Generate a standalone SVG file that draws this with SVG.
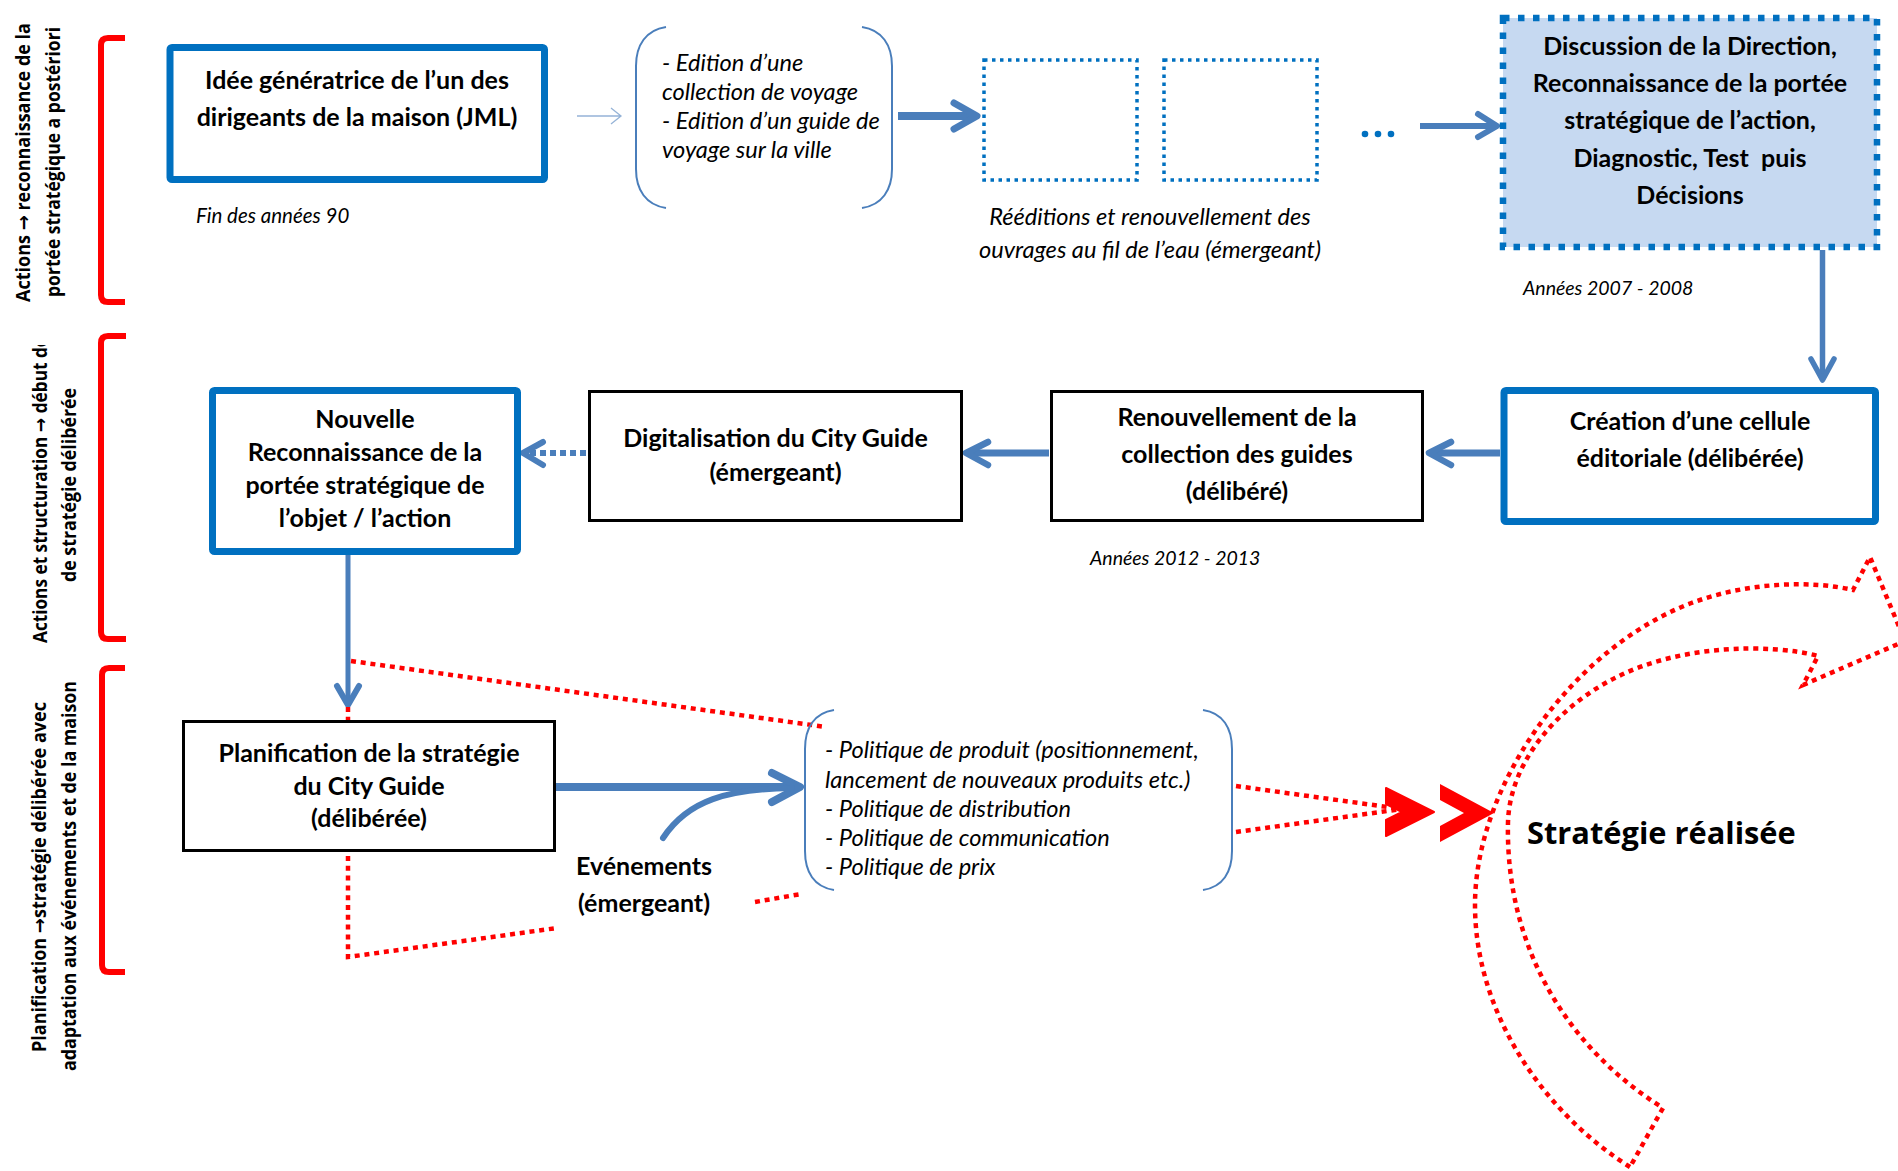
<svg xmlns="http://www.w3.org/2000/svg" width="1898" height="1171" viewBox="0 0 1898 1171">
<defs>
<style>
.bb{fill:#fff;stroke:#0070C0;stroke-width:7}
.bk{fill:#fff;stroke:#000;stroke-width:3}
.db{fill:none;stroke:#0070C0;stroke-width:3.5;stroke-dasharray:3.5 4.5}
.tb{font-family:Lato,"Liberation Sans",sans-serif;font-weight:700;font-size:25px;text-anchor:middle;fill:#000}
.ti{font-family:Lato,"Liberation Sans",sans-serif;font-style:italic;font-size:23.6px;fill:#000}
.tc{font-family:Lato,"Liberation Sans",sans-serif;font-style:italic;font-size:19.5px;fill:#000}
.lb{font-family:"Open Sans","DejaVu Sans",sans-serif;font-weight:700;font-size:19px;text-anchor:middle;fill:#000}
.sh{stroke:#4A7EBB;fill:none;stroke-linecap:butt}
.hd{stroke:#4A7EBB;fill:none;stroke-linecap:round;stroke-linejoin:round}
.rd{stroke:#FF0000;stroke-width:4.5;stroke-dasharray:5 4.8;fill:none}
.pr{stroke:#4A7EBB;stroke-width:2;fill:none}
.br{stroke:#FF0000;stroke-width:6;fill:none;stroke-linejoin:round}
</style>
<clipPath id="cl2"><rect x="0" y="345" width="130" height="320"/></clipPath>
</defs>
<rect width="1898" height="1171" fill="#fff"/>

<g id="labels">
<text class="lb" transform="translate(30,162.5) rotate(-90)" textLength="279" lengthAdjust="spacingAndGlyphs">Actions → reconnaissance de la</text>
<text class="lb" transform="translate(59.5,162) rotate(-90)" textLength="270" lengthAdjust="spacingAndGlyphs">portée stratégique a postériori</text>
<g clip-path="url(#cl2)"><text class="lb" style="text-anchor:start" transform="translate(47,643) rotate(-90)" textLength="306" lengthAdjust="spacingAndGlyphs">Actions et structuration → début de</text></g>
<text class="lb" transform="translate(76,485) rotate(-90)" textLength="194" lengthAdjust="spacingAndGlyphs">de stratégie délibérée</text>
<text class="lb" transform="translate(46,877) rotate(-90)" textLength="350" lengthAdjust="spacingAndGlyphs">Planification →stratégie délibérée avec</text>
<text class="lb" transform="translate(76,876) rotate(-90)" textLength="390" lengthAdjust="spacingAndGlyphs">adaptation aux événements et de la maison</text>
</g>

<g id="brackets">
<path class="br" d="M125,38 H108 Q101,38 101,45 V295 Q101,302 108,302 H125"/>
<path class="br" d="M126,336 H108 Q101,336 101,343 V632 Q101,639 108,639 H126"/>
<path class="br" d="M125,668 H109 Q102,668 102,675 V965 Q102,972 109,972 H125"/>
</g>

<g id="connectors">
<path d="M577,116 H620 M611,108 L621,116 L611,124" stroke="#95B3D7" stroke-width="1.3" fill="none"/>
<path class="sh" d="M898,116 H974" stroke-width="8"/>
<polyline class="hd" points="954,103 977,116 954,129" stroke-width="7"/>
<path class="sh" d="M1420,126 H1494" stroke-width="6"/>
<polyline class="hd" points="1478,114 1497,126 1478,137" stroke-width="6"/>
<path class="sh" d="M1822.5,250 V378" stroke-width="5.5"/>
<polyline class="hd" points="1811,359 1822.5,380 1834,359" stroke-width="5.5"/>
<path class="sh" d="M1500,453 H1431" stroke-width="7"/>
<polyline class="hd" points="1451,442 1429,453 1451,465" stroke-width="6.5"/>
<path class="sh" d="M1049,453 H969" stroke-width="7"/>
<polyline class="hd" points="988,442 966,453 988,465" stroke-width="6.5"/>
<path class="sh" d="M586,453 H527" stroke-width="6" stroke-dasharray="6 4"/>
<polyline class="hd" points="543,442 523,453 543,465" stroke-width="6"/>
<path class="sh" d="M348,555 V702" stroke-width="5"/>
<polyline class="hd" points="337,686 348,705 359,686" stroke-width="6"/>
<path class="sh" d="M556,787 H797" stroke-width="8"/>
<polyline class="hd" points="772,773 800,787 772,802" stroke-width="8"/>
<path class="hd" d="M663,838 C688,800 728,789 792,788" stroke-width="6"/>
<g id="red-lines">
<path class="rd" d="M351,661 L826,727"/>
<path class="rd" d="M348,707 V720"/>
<path class="rd" d="M348,856 V957 L557,928"/>
<path class="rd" d="M755,902 L801,894"/>
<path class="rd" d="M1236,786 L1402,809"/>
<path class="rd" d="M1236,832 L1402,809"/>
</g>
<polygon points="1386,788 1434,812 1386,836 1386,820 1402,812 1386,804" fill="#FF0000" stroke="#FF0000" stroke-width="2" stroke-linejoin="round"/>
<polygon points="1440,784 1494,813 1440,842 1440,826 1464,813 1440,800" fill="#FF0000"/>
<path class="rd" d="M1630,1167 C1540,1110 1475,1010 1475,905 C1475,780 1580,640 1700,600 C1750,583 1810,580 1853,590 L1870,557 L1905,641 L1803,685 L1818,656 C1770,643 1680,645 1617,677 C1560,705 1510,760 1508,822 C1505,950 1570,1050 1663,1108 Z"/>
</g>

<g id="n-idee">
<rect class="bb" x="170" y="47.5" width="374.5" height="132" rx="2"/>
<text class="tb" x="357" y="89">Idée génératrice de l’un des</text>
<text class="tb" x="357" y="126">dirigeants de la maison (JML)</text>
<text class="tc" style="font-size:20.5px" x="196" y="223">Fin des années 90</text>
</g>

<g id="n-edition">
<path class="pr" d="M666,27 C646,30 636,45 636,66 V169 C636,190 646,205 666,208"/>
<path class="pr" d="M862,27 C882,30 892,45 892,66 V169 C892,190 882,205 862,208"/>
<text class="ti" x="662" y="71">- Edition d’une</text>
<text class="ti" x="662" y="100">collection de voyage</text>
<text class="ti" x="662" y="129">- Edition d’un guide de</text>
<text class="ti" x="662" y="158">voyage sur la ville</text>
</g>

<g id="n-reeditions">
<rect class="db" x="984" y="60" width="153" height="120"/>
<rect class="db" x="1164" y="60" width="153" height="120"/>
<text class="ti" style="text-anchor:middle" x="1150" y="225">Rééditions et renouvellement des</text>
<text class="ti" style="text-anchor:middle" x="1150" y="258">ouvrages au fil de l’eau (émergeant)</text>
<circle cx="1365" cy="134" r="3.3" fill="#0070C0"/>
<circle cx="1378" cy="134" r="3.3" fill="#0070C0"/>
<circle cx="1391" cy="134" r="3.3" fill="#0070C0"/>
</g>

<g id="n-discussion">
<rect x="1503" y="18" width="374" height="229" fill="#C6D9F1" stroke="#0070C0" stroke-width="6.5" stroke-dasharray="6.5 8.5"/>
<text class="tb" x="1690" y="55">Discussion de la Direction,</text>
<text class="tb" x="1690" y="92">Reconnaissance de la portée</text>
<text class="tb" x="1690" y="129">stratégique de l’action,</text>
<text class="tb" x="1690" y="167" xml:space="preserve">Diagnostic, Test  puis</text>
<text class="tb" x="1690" y="204">Décisions</text>
<text class="tc" x="1523" y="295">Années 2007 - 2008</text>
</g>

<g id="n-creation">
<rect class="bb" x="1504" y="390.5" width="371.5" height="131" rx="2"/>
<text class="tb" x="1690" y="430">Création d’une cellule</text>
<text class="tb" x="1690" y="467">éditoriale (délibérée)</text>
</g>

<g id="n-renouvellement">
<rect class="bk" x="1051.5" y="391.5" width="371" height="129"/>
<text class="tb" x="1237" y="426">Renouvellement de la</text>
<text class="tb" x="1237" y="463">collection des guides</text>
<text class="tb" x="1237" y="500">(délibéré)</text>
<text class="tc" x="1090" y="565">Années 2012 - 2013</text>
</g>

<g id="n-digitalisation">
<rect class="bk" x="589.5" y="391.5" width="372" height="129"/>
<text class="tb" x="775.5" y="447">Digitalisation du City Guide</text>
<text class="tb" x="775.5" y="481">(émergeant)</text>
</g>

<g id="n-nouvelle">
<rect class="bb" x="212.5" y="390.5" width="305" height="161" rx="2"/>
<text class="tb" x="365" y="428">Nouvelle</text>
<text class="tb" x="365" y="461">Reconnaissance de la</text>
<text class="tb" x="365" y="494">portée stratégique de</text>
<text class="tb" x="365" y="527">l’objet / l’action</text>
</g>

<g id="n-planification">
<rect class="bk" x="183.5" y="721.5" width="371" height="129"/>
<text class="tb" x="369" y="762">Planification de la stratégie</text>
<text class="tb" x="369" y="795">du City Guide</text>
<text class="tb" x="369" y="827">(délibérée)</text>
</g>

<g id="n-evenements">
<text class="tb" x="644" y="875">Evénements</text>
<text class="tb" x="644" y="912">(émergeant)</text>
</g>

<g id="n-politique">
<path class="pr" d="M834,710 C814,713 805,728 805,749 V851 C805,872 814,887 834,890"/>
<path class="pr" d="M1203,710 C1223,713 1232,728 1232,749 V851 C1232,872 1223,887 1203,890"/>
<text class="ti" x="825" y="758">- Politique de produit (positionnement,</text>
<text class="ti" x="825" y="788">lancement de nouveaux produits etc.)</text>
<text class="ti" x="825" y="817">- Politique de distribution</text>
<text class="ti" x="825" y="846">- Politique de communication</text>
<text class="ti" x="825" y="875">- Politique de prix</text>
</g>

<g id="n-strategie">
<text x="1527" y="844" style="font-family:'Open Sans','DejaVu Sans',sans-serif;font-weight:700;font-size:30.8px;fill:#000">Stratégie réalisée</text>
</g>
</svg>
